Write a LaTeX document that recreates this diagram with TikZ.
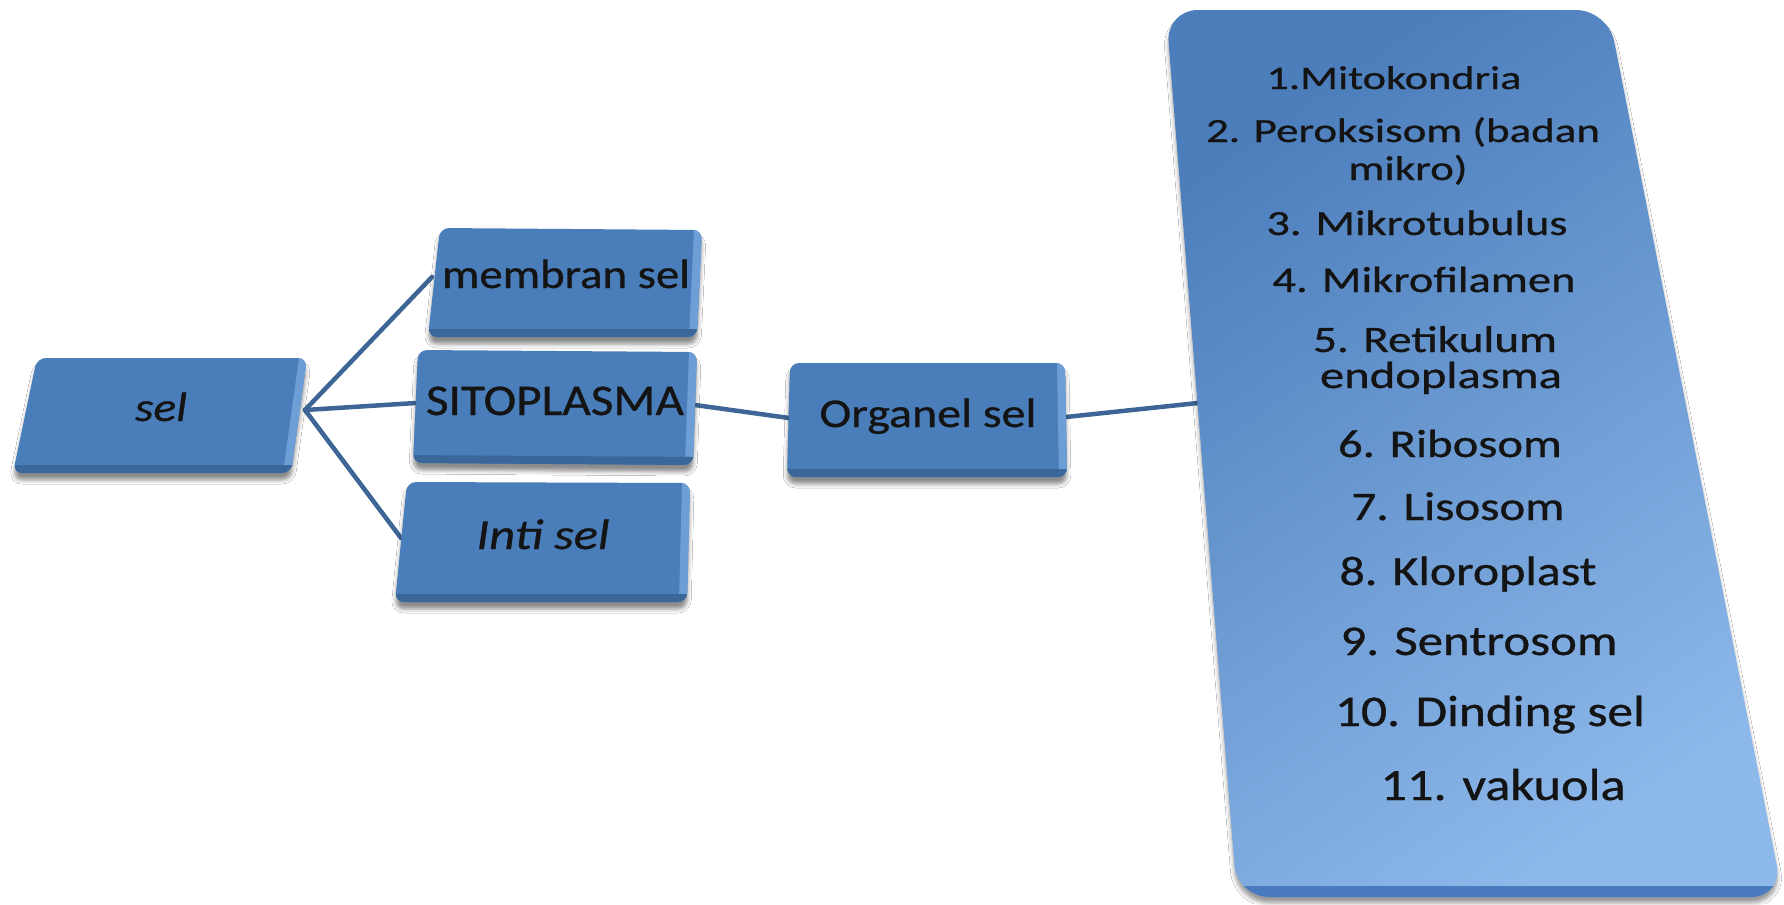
\documentclass[tikz,border=0pt]{standalone}
\usepackage{fontspec}
\setmainfont{Carlito}[FakeBold=0.7]
\usetikzlibrary{calc,shadows.blur}
\definecolor{boxblue}{HTML}{4A7EBB}
\definecolor{boxrim}{HTML}{3A6699}
\definecolor{boxlight}{HTML}{6E9ED6}
\definecolor{linkblue}{HTML}{3D6696}
\definecolor{bigtop}{HTML}{4C7EBC}
\definecolor{bigbot}{HTML}{8DB8EA}
\definecolor{bigrim}{HTML}{4A7BBE}
\newcommand\tx[3]{\resizebox{#1bp}{\height}{\fontsize{#2}{#2}\selectfont #3}}
\newcommand\bevelbox[4]{%
  \path[blur shadow={shadow xshift=0bp,shadow yshift=-7bp,shadow blur radius=4bp,shadow opacity=45},
        fill=boxblue, rounded corners=9bp] (#1) -- (#2) -- (#3) -- (#4) -- cycle;
  \begin{scope}
    \clip[rounded corners=9bp] (#1) -- (#2) -- (#3) -- (#4) -- cycle;
    \fill[boxlight] ($(#2)+(-8,0)$) -- ($(#2)+(12,0)$) -- ($(#3)+(12,0)$) -- ($(#3)+(-8,0)$) -- cycle;
    \fill[boxrim] ($(#4)+(-12,-8)$) -- ($(#3)+(12,-8)$) -- ($(#3)+(12,12)$) -- ($(#4)+(-12,12)$) -- cycle;
  \end{scope}}
\tikzset{
  lbl/.style={anchor=base, inner sep=0pt, text=black!92},
  link/.style={draw=linkblue, line width=4.5bp, line cap=round}
}
\begin{document}
\begin{tikzpicture}[x=1bp,y=-1bp]
\useasboundingbox (0,0) rectangle (1784,904);
\fill[white] (0,0) rectangle (1784,904);

% corner coordinates of the boxes
\coordinate (s1) at (37,358);  \coordinate (s2) at (307,358);  \coordinate (s3) at (291,473);  \coordinate (s4) at (13,473);
\coordinate (m1) at (440,228); \coordinate (m2) at (702,230);  \coordinate (m3) at (697,337);  \coordinate (m4) at (428,337);
\coordinate (p1) at (418,350); \coordinate (p2) at (697,352);  \coordinate (p3) at (693,465);  \coordinate (p4) at (413,463);
\coordinate (i1) at (407,482); \coordinate (i2) at (690,483);  \coordinate (i3) at (687,602);  \coordinate (i4) at (395,602);
\coordinate (o1) at (790,363); \coordinate (o2) at (1065,363); \coordinate (o3) at (1067,477); \coordinate (o4) at (787,477);

% connector end points
\coordinate (hub) at (305,410);
\coordinate (mIn) at (432,277);
\coordinate (pIn) at (416,403);
\coordinate (iIn) at (401,538);
\coordinate (pOut) at (695,405);
\coordinate (oIn) at (789,418);
\coordinate (oOut) at (1066,417);
\coordinate (bigIn) at (1198,403);

\draw[link] (hub) -- (mIn);
\draw[link] (hub) -- (pIn);
\draw[link] (hub) -- (iIn);
\draw[link] (pOut) -- (oIn);
\draw[link] (oOut) -- (bigIn);

% big list box
\path[blur shadow={shadow xshift=0bp,shadow yshift=-6bp,shadow blur radius=4bp,shadow opacity=40},
      top color=bigtop, bottom color=bigbot, shading angle=35, rounded corners=32bp]
  (1166,10) -- (1608,10) -- (1783,897) -- (1237,897) -- cycle;
\begin{scope}
  \clip[rounded corners=32bp] (1166,10) -- (1608,10) -- (1783,897) -- (1237,897) -- cycle;
  \fill[bigrim] (1200,886) rectangle (1790,910);
\end{scope}

\bevelbox{s1}{s2}{s3}{s4}
\bevelbox{m1}{m2}{m3}{m4}
\bevelbox{p1}{p2}{p3}{p4}
\bevelbox{i1}{i2}{i3}{i4}
\bevelbox{o1}{o2}{o3}{o4}

% labels
\node[lbl] (sel) at (161,421) {\itshape\tx{52}{41}{sel}};
\node[lbl] (mem) at (566,288) {\tx{248}{41}{membran sel}};
\node[lbl] (sito) at (555,415) {\tx{258}{44}{SITOPLASMA}};
\node[lbl] (inti) at (543,549) {\itshape\tx{133}{43}{Inti sel}};
\node[lbl] (org) at (928,427) {\tx{217}{41}{Organel sel}};

\node[lbl] (l1)  at (1394,89)  {\tx{255}{33}{1.Mitokondria}};
\node[lbl] (l2)  at (1403,142) {\tx{394}{34}{2. Peroksisom (badan}};
\node[lbl] (l2b) at (1408,180) {\tx{119}{34.5}{mikro)}};
\node[lbl] (l3)  at (1417,235) {\tx{301}{35.5}{3. Mikrotubulus}};
\node[lbl] (l4)  at (1424,292) {\tx{303}{36.5}{4. Mikrofilamen}};
\node[lbl] (l5)  at (1435,352) {\tx{244}{37.5}{5. Retikulum}};
\node[lbl] (l5b) at (1441,388) {\tx{242}{38}{endoplasma}};
\node[lbl] (l6)  at (1450,457) {\tx{224}{39.5}{6. Ribosom}};
\node[lbl] (l7)  at (1458,520) {\tx{213}{40.5}{7. Lisosom}};
\node[lbl] (l8)  at (1468,585) {\tx{257}{41.5}{8. Kloroplast}};
\node[lbl] (l9)  at (1479,655) {\tx{277}{42.5}{9. Sentrosom}};
\node[lbl] (l10) at (1490,726) {\tx{310}{44}{10. Dinding sel}};
\node[lbl] (l11) at (1503,800) {\tx{245}{45}{11. vakuola}};
\end{tikzpicture}
\end{document}
